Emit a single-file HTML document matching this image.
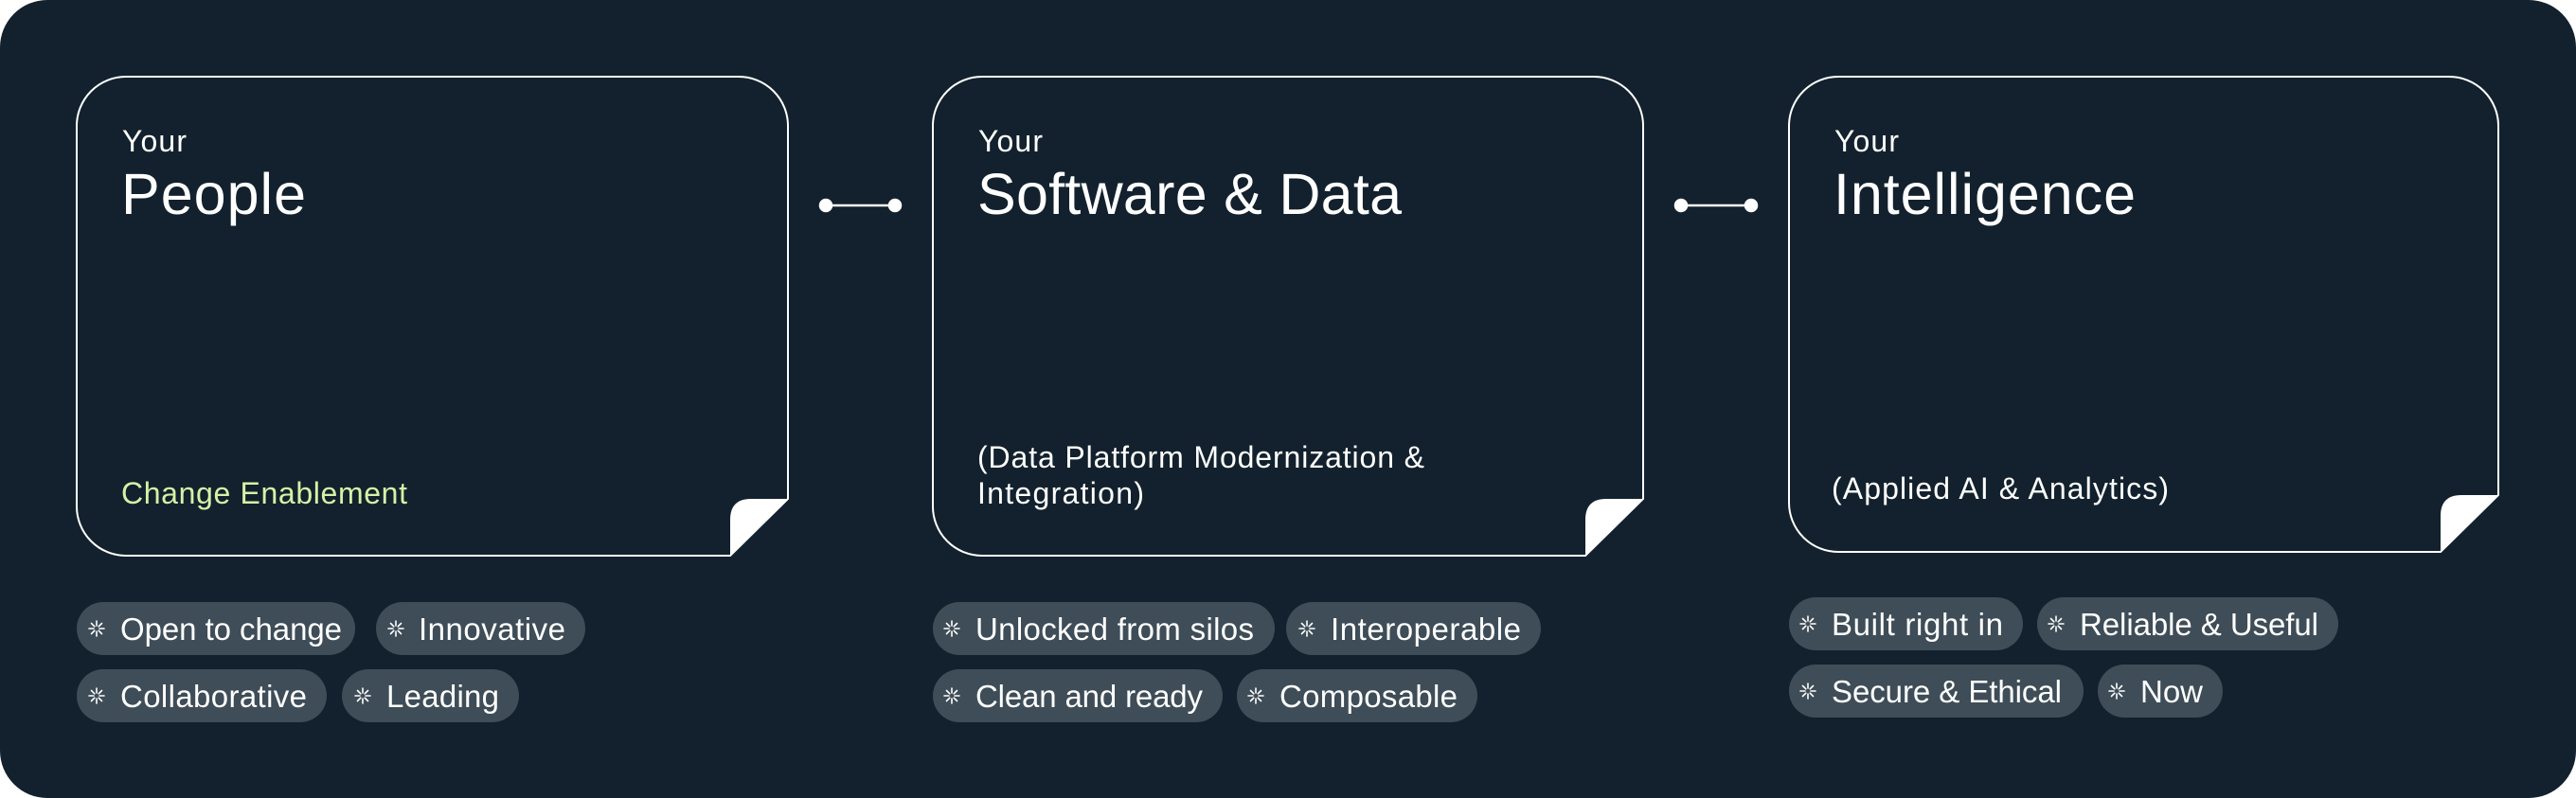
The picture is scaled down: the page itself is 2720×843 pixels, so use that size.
<!DOCTYPE html>
<html><head><meta charset="utf-8"><style>
html,body{margin:0;padding:0;background:#fff;}
svg{display:block}
text{font-family:"Liberation Sans",sans-serif;fill:#fff}
</style></head><body>
<svg width="2720" height="843" viewBox="0 0 2720 843" xmlns="http://www.w3.org/2000/svg">
<defs>
<g id="st" stroke="#fff" stroke-width="1.6" stroke-linecap="round">
<line x1="0" y1="-8" x2="0" y2="-3"/><line x1="0" y1="3" x2="0" y2="8"/>
<line x1="-8" y1="0" x2="-3" y2="0"/><line x1="3" y1="0" x2="8" y2="0"/>
<line x1="-5.5" y1="-5.5" x2="-2.2" y2="-2.2"/><line x1="2.2" y1="2.2" x2="5.5" y2="5.5"/>
<line x1="5.5" y1="-5.5" x2="2.2" y2="-2.2"/><line x1="-2.2" y1="2.2" x2="-5.5" y2="5.5"/>
</g>
</defs>
<rect x="0" y="0" width="2720" height="843" rx="50" fill="#12212d"/>

<g fill="none" stroke="#fff" stroke-width="2">
<path d="M133,81 H780 A52,52 0 0 1 832,133 V527 L771,587 H133 A52,52 0 0 1 81,535 V133 A52,52 0 0 1 133,81 Z"/>
<path d="M1037,81 H1683 A52,52 0 0 1 1735,133 V527 L1674,587 H1037 A52,52 0 0 1 985,535 V133 A52,52 0 0 1 1037,81 Z"/>
<path d="M1941,81 H2586 A52,52 0 0 1 2638,133 V523 L2577,583 H1941 A52,52 0 0 1 1889,531 V133 A52,52 0 0 1 1941,81 Z"/>
</g>
<g fill="#fff">
<path d="M832,527 L793,527 Q771,527 771,549 L771,587 Z"/>
<path d="M1735,527 L1696,527 Q1674,527 1674,549 L1674,587 Z"/>
<path d="M2638,523 L2599,523 Q2577,523 2577,545 L2577,583 Z"/>
</g>

<g stroke="#fff" stroke-width="2.5" fill="#fff">
<line x1="872" y1="217" x2="945" y2="217"/><circle cx="872" cy="217" r="6"/><circle cx="945" cy="217" r="6"/>
<line x1="1775" y1="217" x2="1849" y2="217"/><circle cx="1775" cy="217" r="6"/><circle cx="1849" cy="217" r="6"/>
</g>

<text x="129" y="160" font-size="32" textLength="68">Your</text>
<text x="128" y="226" font-size="61" textLength="195">People</text>
<text x="1033" y="160" font-size="32" textLength="68">Your</text>
<text x="1032" y="226" font-size="61" textLength="448">Software &amp; Data</text>
<text x="1937" y="160" font-size="32" textLength="68">Your</text>
<text x="1936" y="226" font-size="61" textLength="319">Intelligence</text>

<text x="128" y="532" font-size="32" textLength="302" style="fill:#d6f1a6">Change Enablement</text>
<text x="1032" y="494" font-size="32" textLength="472">(Data Platform Modernization &amp;</text>
<text x="1032" y="532" font-size="32" textLength="176">Integration)</text>
<text x="1934" y="527" font-size="32" textLength="356">(Applied AI &amp; Analytics)</text>

<g fill="#3e4d57">
<rect x="81" y="636" width="294" height="56" rx="28"/>
<rect x="397" y="636" width="221" height="56" rx="28"/>
<rect x="81" y="707" width="264" height="56" rx="28"/>
<rect x="361" y="707" width="187" height="56" rx="28"/>
<rect x="985" y="636" width="361" height="56" rx="28"/>
<rect x="1358" y="636" width="269" height="56" rx="28"/>
<rect x="985" y="707" width="306" height="56" rx="28"/>
<rect x="1306" y="707" width="254" height="56" rx="28"/>
<rect x="1889" y="631" width="247" height="56" rx="28"/>
<rect x="2151" y="631" width="318" height="56" rx="28"/>
<rect x="1889" y="702" width="311" height="56" rx="28"/>
<rect x="2215" y="702" width="132" height="56" rx="28"/>
</g>
<g font-size="33">
<use href="#st" x="102" y="664"/><text x="127" y="676" textLength="234">Open to change</text>
<use href="#st" x="418" y="664"/><text x="442" y="676" textLength="155">Innovative</text>
<use href="#st" x="102" y="735"/><text x="127" y="747" textLength="197">Collaborative</text>
<use href="#st" x="383" y="735"/><text x="408" y="747" textLength="119">Leading</text>
<use href="#st" x="1005" y="664"/><text x="1030" y="676" textLength="294">Unlocked from silos</text>
<use href="#st" x="1380" y="664"/><text x="1405" y="676" textLength="201">Interoperable</text>
<use href="#st" x="1005" y="735"/><text x="1030" y="747" textLength="240">Clean and ready</text>
<use href="#st" x="1326" y="735"/><text x="1351" y="747" textLength="188">Composable</text>
<use href="#st" x="1909" y="659"/><text x="1934" y="671" textLength="181">Built right in</text>
<use href="#st" x="2171" y="659"/><text x="2196" y="671" textLength="252">Reliable &amp; Useful</text>
<use href="#st" x="1909" y="730"/><text x="1934" y="742" textLength="243">Secure &amp; Ethical</text>
<use href="#st" x="2235" y="730"/><text x="2260" y="742" textLength="66">Now</text>
</g>
</svg>
</body></html>
